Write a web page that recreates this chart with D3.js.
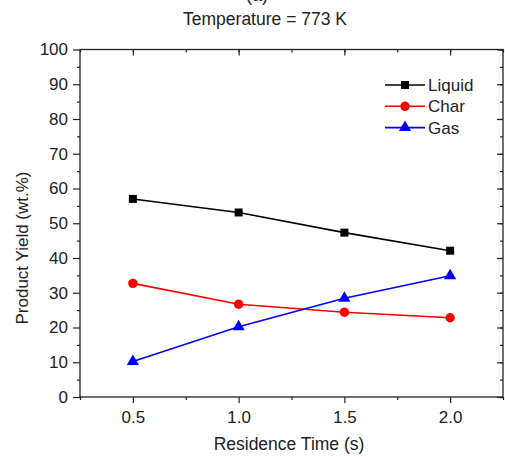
<!DOCTYPE html>
<html><head><meta charset="utf-8">
<script src="https://cdn.jsdelivr.net/npm/d3@7"></script>
<style>body{margin:0;background:#fff}svg{display:block}text{font-family:Arial,"Liberation Sans",sans-serif;fill:#222}</style>
</head><body>
<svg id="c" width="505" height="457"></svg>
<script>
const residenceTime = [0.5, 1.0, 1.5, 2.0];
const liquid = [57.0, 53.1, 47.3, 42.1];
const charY = [32.7, 26.7, 24.4, 22.8];
const gas = [10.2, 20.2, 28.4, 34.9];
const seriesNames = ["Liquid", "Char", "Gas"];
const xTicks = [0.5, 1.0, 1.5, 2.0];
const yTicks = [0, 10, 20, 30, 40, 50, 60, 70, 80, 90, 100];

const svg = d3.select("#c");
const L = 80, R = 503, T = 49.5, B = 397;
const x = d3.scaleLinear().domain([0.25, 2.25]).range([L, R]);
const y = d3.scaleLinear().domain([0, 100]).range([B, T]);
const xMinor = d3.range(0.25, 2.26, 0.25);
const yMinor = d3.range(0, 101, 5);

// frame
svg.append("rect").attr("x", L).attr("y", T).attr("width", R - L).attr("height", B - T)
  .attr("fill", "none").attr("stroke", "#222").attr("stroke-width", 1.3);

const fmt = d => d.toFixed(1);
// bottom axis
svg.append("g").attr("transform", `translate(0,${B})`)
  .call(d3.axisBottom(x).tickValues(xTicks).tickFormat(fmt).tickSize(6).tickPadding(8));
svg.append("g").attr("transform", `translate(0,${B})`)
  .call(d3.axisBottom(x).tickValues(xMinor.filter(v => !xTicks.some(t => Math.abs(t - v) < 1e-6))).tickFormat("").tickSize(3));
// top axis inward
svg.append("g").attr("transform", `translate(0,${T})`)
  .call(d3.axisBottom(x).tickValues(xTicks).tickFormat("").tickSize(6));
svg.append("g").attr("transform", `translate(0,${T})`)
  .call(d3.axisBottom(x).tickValues(xMinor).tickFormat("").tickSize(3));
// left axis
svg.append("g").attr("transform", `translate(${L},0)`)
  .call(d3.axisLeft(y).tickValues(yTicks).tickSize(7).tickPadding(5));
svg.append("g").attr("transform", `translate(${L},0)`)
  .call(d3.axisLeft(y).tickValues(yMinor.filter(v => v % 10 !== 0)).tickFormat("").tickSize(3));
// right axis inward
svg.append("g").attr("transform", `translate(${R},0)`)
  .call(d3.axisLeft(y).tickValues(yTicks).tickFormat("").tickSize(6));
svg.append("g").attr("transform", `translate(${R},0)`)
  .call(d3.axisLeft(y).tickValues(yMinor).tickFormat("").tickSize(3));

svg.selectAll(".domain").attr("stroke", "none");
svg.selectAll(".tick line").attr("stroke", "#222").attr("stroke-width", 1.2);
svg.selectAll(".tick text").style("font-size", "17px").style("font-family", "Arial, 'Liberation Sans', sans-serif").attr("fill", "#222");

// series
const series = [
  { name: seriesNames[0], vals: liquid, color: "#000000", sym: d3.symbolSquare, size: 64 },
  { name: seriesNames[1], vals: charY, color: "#ff0000", sym: d3.symbolCircle, size: 70 },
  { name: seriesNames[2], vals: gas, color: "#0000ff", sym: d3.symbolTriangle, size: 64 }
];
const line = d3.line().x(d => x(d[0])).y(d => y(d[1]));
series.forEach(s => {
  const pts = residenceTime.map((t, i) => [t, s.vals[i]]);
  svg.append("path").datum(pts).attr("d", line).attr("fill", "none")
    .attr("stroke", s.color).attr("stroke-width", 1.6);
  svg.selectAll(null).data(pts).enter().append("path")
    .attr("d", d3.symbol().type(s.sym).size(s.size))
    .attr("transform", d => `translate(${x(d[0])},${y(d[1])})`)
    .attr("fill", s.color);
});

// legend
const lx0 = 385, lx1 = 425, ly0 = 85, ldy = 21.3;
series.forEach((s, i) => {
  const yy = ly0 + i * ldy;
  svg.append("line").attr("x1", lx0).attr("x2", lx1).attr("y1", yy).attr("y2", yy)
    .attr("stroke", s.color).attr("stroke-width", 1.6);
  svg.append("path").attr("d", d3.symbol().type(s.sym).size(s.size))
    .attr("transform", `translate(${(lx0 + lx1) / 2},${yy})`).attr("fill", s.color);
  svg.append("text").attr("x", lx1 + 3).attr("y", yy + 6).style("font-size", "17px").text(s.name);
});

// titles
svg.append("text").attr("x", 257).attr("y", 1).attr("text-anchor", "middle").style("font-size", "18px").text("(a)");
svg.append("text").attr("x", 265).attr("y", 25).attr("text-anchor", "middle").style("font-size", "17.5px").text("Temperature = 773 K");
svg.append("text").attr("x", 289).attr("y", 450).attr("text-anchor", "middle").style("font-size", "17.5px").text("Residence Time (s)");
svg.append("text").attr("transform", "translate(28,248) rotate(-90)").attr("text-anchor", "middle").style("font-size", "17px").text("Product Yield (wt.%)");
</script>
</body></html>
